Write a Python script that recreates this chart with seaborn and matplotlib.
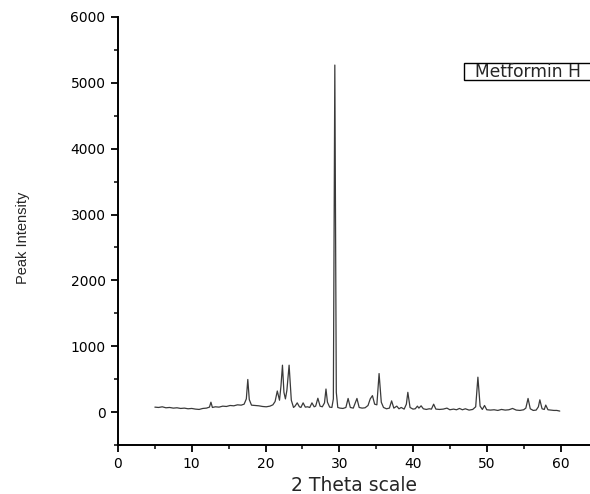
import matplotlib
matplotlib.use("Agg")
import matplotlib.pyplot as plt
from matplotlib.ticker import MultipleLocator
from matplotlib.patches import Rectangle
import seaborn as sns
import pandas as pd

two_theta = [
    5.0, 5.5, 6.0, 6.5, 7.0, 7.5, 8.0, 8.5, 9.0, 9.5, 10.0, 10.5, 11.0, 11.5, 12.0, 12.4,
    12.6, 12.8, 13.2, 13.7, 14.2, 14.7, 15.2, 15.7, 16.2, 16.7, 17.1, 17.4, 17.6, 17.8,
    18.1, 18.6, 19.1, 19.6, 20.1, 20.6, 21.0, 21.3, 21.6, 21.9, 22.1, 22.3, 22.5, 22.7,
    22.9, 23.2, 23.5, 23.8, 24.0, 24.3, 24.6, 24.8, 25.1, 25.4, 25.7, 26.0, 26.3, 26.6,
    26.8, 27.1, 27.4, 27.7, 28.0, 28.2, 28.4, 28.7, 29.0, 29.2, 29.4, 29.6, 29.8, 30.1,
    30.5, 30.9, 31.2, 31.5, 31.9, 32.4, 32.7, 33.1, 33.5, 33.9, 34.2, 34.5, 34.8, 35.1,
    35.4, 35.7, 36.0, 36.4, 36.8, 37.1, 37.4, 37.8, 38.1, 38.4, 38.8, 39.1, 39.3, 39.6,
    40.0, 40.3, 40.6, 40.8, 41.1, 41.4, 41.8, 42.2, 42.5, 42.8, 43.1, 43.6, 44.1, 44.6,
    45.0, 45.5, 45.9, 46.3, 46.7, 47.1, 47.6, 48.1, 48.5, 48.8, 49.1, 49.4, 49.7, 50.0,
    50.5, 51.0, 51.5, 52.0, 52.5, 53.0, 53.5, 54.0, 54.5, 55.0, 55.3, 55.6, 55.9, 56.3,
    56.7, 57.0, 57.2, 57.5, 57.8, 58.0, 58.3, 58.7, 59.1, 59.5, 59.9,
]
intensity = [
    75, 70, 80, 65, 70, 60, 65, 55, 60, 50, 55, 45, 40, 55, 60, 75,
    150, 70, 80, 75, 90, 85, 100, 95, 110, 105, 120, 200, 495, 190,
    105, 100, 95, 85, 80, 90, 110, 160, 320, 180, 400, 712, 300, 200,
    330, 712, 180, 70, 90, 140, 80, 70, 140, 75, 80, 70, 140, 80,
    90, 210, 90, 80, 140, 350, 150, 75, 70, 200, 5270, 300, 70, 60,
    55, 70, 207, 70, 60, 207, 70, 60, 65, 100, 200, 250, 120, 110,
    585, 150, 70, 50, 60, 170, 60, 90, 50, 70, 45, 120, 300, 70,
    45, 50, 90, 60, 95, 50, 40, 50, 45, 120, 45, 40, 45, 60,
    35, 45, 35, 55, 35, 50, 30, 40, 80, 530, 90, 40, 100, 35,
    30, 35, 25, 40, 30, 35, 55, 30, 25, 35, 60, 207, 50, 25,
    30, 80, 186, 50, 40, 106, 35, 30, 25, 25, 15,
]

y_ticks = [0, 1000, 2000, 3000, 4000, 5000, 6000]
x_ticks = [0, 10, 20, 30, 40, 50, 60]
legend_label = "Metformin H"
x_label = "2 Theta scale"
y_label = "Peak Intensity"

sns.set_style("ticks")
plt.rcParams["font.family"] = ["DejaVu Sans"]

df = pd.DataFrame({"two_theta": two_theta, "intensity": intensity})

fig = plt.figure(figsize=(5.9, 4.94), dpi=100)
ax = fig.add_axes([0.2, 0.0992, 0.8, 0.8664])

sns.lineplot(data=df, x="two_theta", y="intensity", ax=ax, color="#3a3a3a",
             linewidth=0.9, estimator=None, sort=False)

ax.set_xlim(0, 64)
ax.set_ylim(-500, 6000)
ax.set_xticks(x_ticks)
ax.set_yticks(y_ticks)
ax.xaxis.set_minor_locator(MultipleLocator(5))
ax.yaxis.set_minor_locator(MultipleLocator(500))

for side in ["top", "right"]:
    ax.spines[side].set_visible(False)
for side in ["left", "bottom"]:
    ax.spines[side].set_linewidth(1.4)
    ax.spines[side].set_color("black")

ax.tick_params(axis="both", which="major", direction="out", length=5, width=1.3,
               labelsize=10, colors="black", pad=4)
ax.tick_params(axis="both", which="minor", direction="out", length=3, width=1.3)

ax.set_xlabel(x_label, fontsize=13.5, labelpad=3)
ax.set_ylabel(y_label, fontsize=10.5, family=["Liberation Sans", "DejaVu Sans"])
ax.yaxis.set_label_coords(-0.186, 0.484)

# legend frame (runs off the right edge as in the reference)
ax.add_patch(Rectangle((0.733, 0.853), 0.4, 0.0397, transform=ax.transAxes,
                       facecolor="white", edgecolor="black", linewidth=1.0,
                       clip_on=True, zorder=3))
ax.text(0.756, 0.860, legend_label, transform=ax.transAxes, fontsize=12.3,
        va="baseline", ha="left", zorder=4)

fig.savefig("out.png", dpi=100)
